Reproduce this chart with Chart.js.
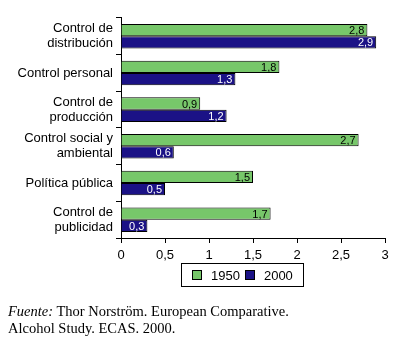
<!DOCTYPE html>
<html>
<head>
<meta charset="utf-8">
<script src="https://cdn.jsdelivr.net/npm/chart.js@4.4.0/dist/chart.umd.min.js"></script>
<style>
  body { margin: 0; background: #fff; width: 399px; height: 346px; position: relative; overflow: hidden; }
  #wrap { position: absolute; left: 0; top: 0; width: 399px; height: 300px; }
  #legend {
    position: absolute; left: 181px; top: 263px; width: 121px; height: 22px;
    border: 1px solid #000; display: flex; align-items: center;
    font: 13px "Liberation Sans", Arial, sans-serif; color: #000; box-sizing: content-box;
  }
  #legend .item { display: flex; align-items: center; }
  #legend .sw { width: 8px; height: 8px; border: 1px solid #000; }
  #source {
    position: absolute; left: 8px; top: 303px;
    font: 14.5px "Liberation Serif", "Times New Roman", serif; line-height: 17px; color: #000;
  }
</style>
</head>
<body>
<div id="wrap"><canvas id="chart"></canvas></div>
<div id="legend"></div>
<div id="source"><i>Fuente:</i> Thor Norström. European Comparative.<br>Alcohol Study. ECAS. 2000.</div>
<script>
// categories (multi-line labels as arrays)
const categories = [
    ['Control de', 'distribución'],
    'Control personal',
    ['Control de', 'producción'],
    ['Control social y', 'ambiental'],
    'Política pública',
    ['Control de', 'publicidad']
];
const seriesNames = ['1950', '2000'];
const values1950 = [2.8, 1.8, 0.9, 2.7, 1.5, 1.7];
const values2000 = [2.9, 1.3, 1.2, 0.6, 0.5, 0.3];
const xTicks = [0, 0.5, 1, 1.5, 2, 2.5, 3];

const fillColors = ['#77c76a', '#1b1286'];
const labelColors = ['#000', '#fff'];
const sansFont = '"Liberation Sans", Arial, sans-serif';

// decimal comma
function fmt(v) {
    return String(v).replace('.', ',');
}

// value labels drawn just inside the end of each bar
const valueLabels = {
    id: 'valueLabels',
    afterDatasetsDraw(chart) {
        const ctx = chart.ctx;
        ctx.save();
        ctx.font = '11px ' + sansFont;
        ctx.textAlign = 'right';
        ctx.textBaseline = 'middle';
        chart.data.datasets.forEach((ds, i) => {
            chart.getDatasetMeta(i).data.forEach((bar, j) => {
                ctx.fillStyle = labelColors[i];
                ctx.fillText(fmt(ds.data[j]), bar.x - 3, bar.y + 1);
            });
        });
        ctx.restore();
    }
};

Chart.defaults.color = '#000';
Chart.defaults.font.family = sansFont;
Chart.defaults.font.size = 13;

new Chart(document.getElementById('chart'), {
    type: 'bar',
    data: {
        labels: categories,
        datasets: [
            { label: seriesNames[0], data: values1950, backgroundColor: fillColors[0], borderColor: '#000', borderWidth: 1 },
            { label: seriesNames[1], data: values2000, backgroundColor: fillColors[1], borderColor: '#000', borderWidth: 1 }
        ]
    },
    options: {
        indexAxis: 'y',
        responsive: true,
        maintainAspectRatio: false,
        animation: false,
        layout: { padding: { top: 10, right: 14, bottom: 32, left: 0 } },
        datasets: { bar: { categoryPercentage: 0.67, barPercentage: 1.0 } },
        plugins: { legend: { display: false }, tooltip: { enabled: false } },
        scales: {
            x: {
                min: 0,
                max: 3,
                afterBuildTicks: (scale) => { scale.ticks = xTicks.map(v => ({ value: v })); },
                afterFit: (scale) => { scale.height = 30; },
                ticks: { callback: (v) => fmt(v), padding: 5, maxRotation: 0, font: { size: 13 } },
                grid: { drawOnChartArea: false, tickLength: 5, color: '#000' },
                border: { color: '#000', width: 1 }
            },
            y: {
                afterFit: (scale) => { scale.width = 121; },
                ticks: { padding: 3, font: { size: 13, lineHeight: 1.15 } },
                grid: { drawOnChartArea: false, tickLength: 5, color: '#000', offset: true },
                border: { color: '#000', width: 1 }
            }
        }
    },
    plugins: [valueLabels]
});

// legend built from the series names and colours
const legend = document.getElementById('legend');
seriesNames.forEach((name, i) => {
    const item = document.createElement('div');
    item.className = 'item';
    item.style.marginLeft = i === 0 ? '10px' : '5px';
    item.innerHTML = '<span class="sw" style="background:' + fillColors[i] + '"></span>' +
        '<span style="margin-left:9px">' + name + '</span>';
    legend.appendChild(item);
});
</script>
</body>
</html>
